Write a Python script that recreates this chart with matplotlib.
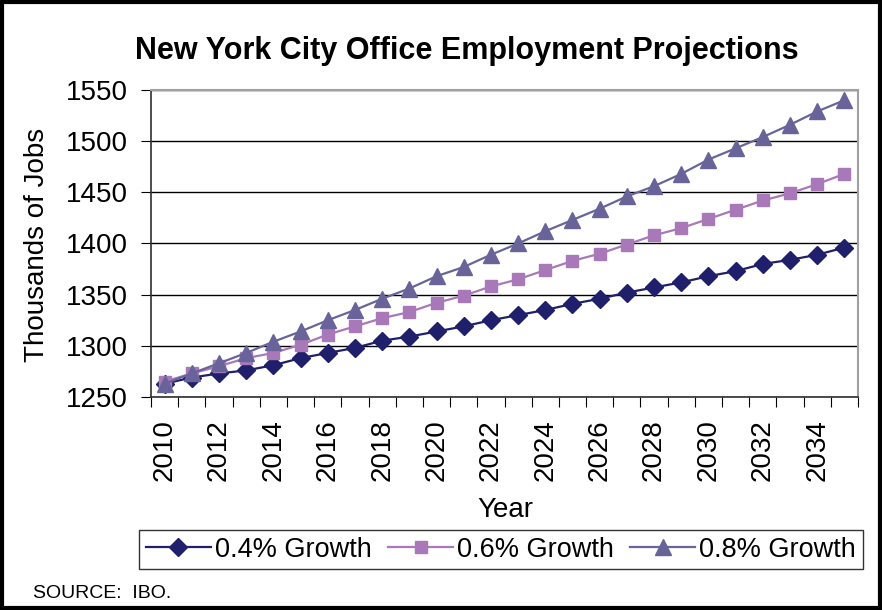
import matplotlib.pyplot as plt
from matplotlib.patches import Rectangle

plt.rcParams['font.family'] = ['Liberation Sans', 'DejaVu Sans']

years = list(range(2010, 2036))
growth_04 = [1263, 1269, 1273, 1276, 1281, 1288, 1293, 1298, 1305, 1309, 1314, 1319, 1325,
             1330, 1335, 1341, 1346, 1352, 1357, 1362, 1368, 1373, 1380, 1384, 1389, 1396]
growth_06 = [1265, 1273, 1280, 1288, 1293, 1301, 1311, 1319, 1327, 1333, 1342, 1349, 1358,
             1365, 1374, 1383, 1390, 1399, 1408, 1415, 1424, 1433, 1442, 1449, 1458, 1468]
growth_08 = [1263, 1273, 1283, 1293, 1304, 1314, 1325, 1335, 1346, 1356, 1368, 1377, 1389,
             1400, 1412, 1423, 1434, 1446, 1456, 1468, 1482, 1493, 1504, 1516, 1529, 1540]
labels = ['0.4% Growth', '0.6% Growth', '0.8% Growth']

fig = plt.figure(figsize=(8.82, 6.1), dpi=100)
ax = fig.add_axes([0.1712, 0.3492, 0.8016, 0.5033])

x = list(range(len(years)))
ax.plot(x, growth_04, color='#1f1f6b', marker='D', markersize=9, lw=1.6, label=labels[0])
ax.plot(x, growth_06, color='#a878b8', marker='s', markersize=8, lw=1.6, label=labels[1])
ax.plot(x, growth_08, color='#68649a', marker='^', markersize=11, lw=1.6, label=labels[2])

ax.set_ylim(1250, 1550)
ax.set_yticks(range(1250, 1551, 50))
ax.set_xlim(-0.5, len(years) - 0.5)
# category boundaries get the tick marks, every other category gets a label
ax.set_xticks([i - 0.5 for i in range(len(years) + 1)])
ax.set_xticklabels([])
ax.set_xticks(x[::2], minor=True)
ax.set_xticklabels([str(y) for y in years[::2]], minor=True, rotation=90, fontsize=20)
ax.tick_params(axis='x', which='minor', length=0, pad=16)
ax.tick_params(axis='x', which='major', length=7, direction='out', color='black')
ax.tick_params(axis='y', labelsize=20, length=7, color='black', pad=10)

ax.grid(axis='y', color='black', lw=1)
ax.set_axisbelow(True)
for s in ['top', 'right']:
    ax.spines[s].set_color('#a0a0a0')
    ax.spines[s].set_linewidth(1.5)
for s in ['left', 'bottom']:
    ax.spines[s].set_color('#303030')
    ax.spines[s].set_linewidth(1.2)

fig.text(0.042, 0.598, 'Thousands of Jobs', rotation=90, ha='center', va='center', fontsize=20)
fig.text(0.5726, 0.164, 'Year', ha='center', va='center', fontsize=20)
fig.text(0.5295, 0.9033, 'New York City Office Employment Projections', ha='center', va='baseline',
         fontsize=22, fontweight='bold')
fig.text(0.0374, 0.0197, 'SOURCE:  IBO.', fontsize=14, va='baseline')

leg = fig.legend(loc='center', bbox_to_anchor=(0.568, 0.099), ncol=3, fontsize=19.5, frameon=True,
                 fancybox=False, edgecolor='black', handlelength=2.4, handletextpad=0.15,
                 columnspacing=0.6, borderpad=0.25, borderaxespad=0)
leg.get_frame().set_linewidth(1)

fig.patches.append(Rectangle((0.002, 0.003), 0.996, 0.994, transform=fig.transFigure,
                             fill=False, edgecolor='black', lw=3))

fig.savefig('out.png', dpi=100)
